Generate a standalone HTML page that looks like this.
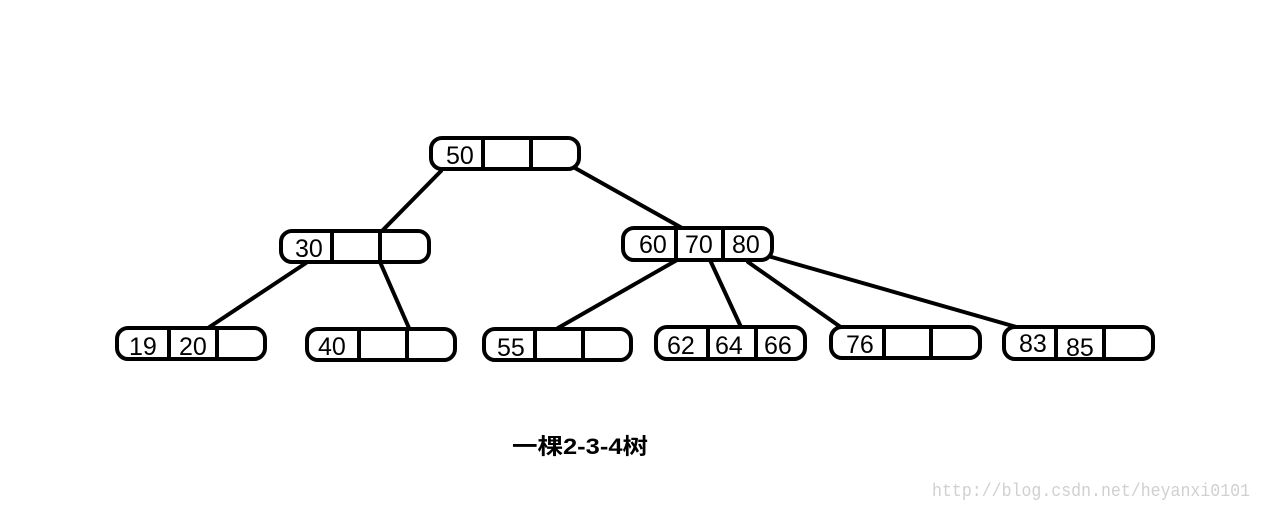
<!DOCTYPE html>
<html><head><meta charset="utf-8"><style>
html,body{margin:0;padding:0;background:#fff;}
svg{display:block}
text{font-family:"Liberation Sans","DejaVu Sans",sans-serif;}
</style></head><body>
<svg width="1263" height="509" viewBox="0 0 1263 509" xmlns="http://www.w3.org/2000/svg">
<g stroke="#000" stroke-width="4" fill="none" stroke-linecap="round">
<line x1="441" y1="171" x2="382" y2="231"/>
<line x1="575" y1="168" x2="682" y2="228"/>
<line x1="306" y1="263" x2="208" y2="328"/>
<line x1="380" y1="262" x2="409" y2="328"/>
<line x1="677" y1="260" x2="558" y2="328"/>
<line x1="710" y1="260" x2="741" y2="327"/>
<line x1="748" y1="262" x2="842" y2="328"/>
<line x1="768" y1="256" x2="1020" y2="328"/>
</g>
<g stroke="#000" stroke-width="4" fill="#fff">
<rect x="431" y="138" width="148" height="31" rx="11"/>
<rect x="281" y="231" width="148" height="31" rx="11"/>
<rect x="623" y="228" width="149" height="32" rx="11"/>
<rect x="117" y="328" width="148" height="31" rx="11"/>
<rect x="307" y="329" width="148" height="31" rx="11"/>
<rect x="484" y="329" width="147" height="31" rx="11"/>
<rect x="656" y="327" width="149" height="32" rx="11"/>
<rect x="831" y="327" width="149" height="31" rx="11"/>
<rect x="1004" y="327" width="149" height="32" rx="11"/>
</g>
<g stroke="#000" stroke-width="4">
<line x1="483" y1="138" x2="483" y2="169"/><line x1="531" y1="138" x2="531" y2="169"/>
<line x1="332" y1="231" x2="332" y2="262"/><line x1="380" y1="231" x2="380" y2="262"/>
<line x1="676" y1="228" x2="676" y2="260"/><line x1="723" y1="228" x2="723" y2="260"/>
<line x1="169" y1="328" x2="169" y2="359"/><line x1="217" y1="328" x2="217" y2="359"/>
<line x1="359" y1="329" x2="359" y2="360"/><line x1="407" y1="329" x2="407" y2="360"/>
<line x1="535" y1="329" x2="535" y2="360"/><line x1="583" y1="329" x2="583" y2="360"/>
<line x1="708" y1="327" x2="708" y2="359"/><line x1="756" y1="327" x2="756" y2="359"/>
<line x1="884" y1="327" x2="884" y2="358"/><line x1="931" y1="327" x2="931" y2="358"/>
<line x1="1056" y1="327" x2="1056" y2="359"/><line x1="1104" y1="327" x2="1104" y2="359"/>
</g>
<g font-size="25" fill="#000">
<text x="446" y="164">50</text>
<text x="295" y="257">30</text>
<text x="639" y="253">60</text><text x="685" y="253">70</text><text x="732" y="253">80</text>
<text x="129" y="355">19</text><text x="179" y="355">20</text>
<text x="318" y="355">40</text>
<text x="497" y="356">55</text>
<text x="667" y="354">62</text><text x="715" y="354">64</text><text x="764" y="354">66</text>
<text x="846" y="353">76</text>
<text x="1019" y="352">83</text><text x="1066" y="356">85</text>
</g>
<text x="512" y="454" font-size="22" font-weight="bold" textLength="136" lengthAdjust="spacingAndGlyphs" style='font-family:"Liberation Sans","Noto Sans CJK SC",sans-serif'>一棵2-3-4树</text>
<text x="932" y="496" font-size="18" fill="#d0d0d0" textLength="318" lengthAdjust="spacingAndGlyphs" style='font-family:"Liberation Mono","DejaVu Sans Mono",monospace'>http://blog.csdn.net/heyanxi0101</text>
</svg>
</body></html>
